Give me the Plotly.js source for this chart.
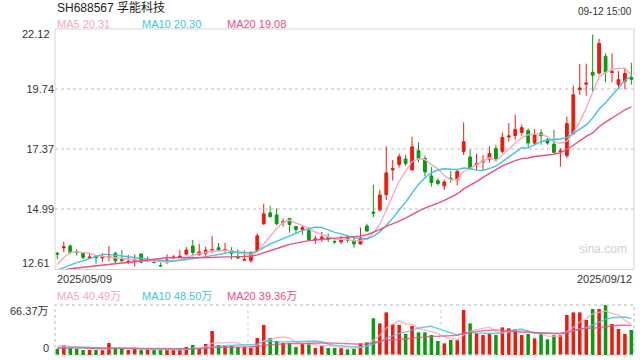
<!DOCTYPE html>
<html><head><meta charset="utf-8">
<script src="https://cdn.plot.ly/plotly-3.0.1.min.js"></script>
<style>html,body{margin:0;padding:0;background:#fff}#chart{width:640px;height:360px}</style>
</head><body><div id="chart"></div><script>
// ---- data ----
const year = '2025';
const daysMay = ['09','12','13','14','15','16','19','20','21','22','23','26','27','28','29','30'];
const daysJun = ['03','04','05','06','09','10','11','12','13','16','17','18','19','20','23','24','25','26','27','30'];
const daysJul = ['01','02','03','04','07','08','09','10','11','14','15','16','17','18','21','22','23','24','25','28','29','30','31'];
const daysAug = ['01','04','05','06','07','08','11','12','13','14','15','18','19','20','21','22','25','26','27','28','29'];
const daysSep = ['01','02','03','04','05','08','09','10','11','12'];

const openP = [13.25,13.47,13.54,13.31,13.26,13.07,13.15,13.07,13.10,13.25,
  13.05,12.91,12.92,13.22,12.95,12.92,12.76,12.96,13.07,13.10,
  13.22,13.54,13.20,13.25,13.37,13.47,13.37,13.36,13.12,12.98,
  12.96,13.36,14.42,14.85,14.77,14.47,14.63,14.31,14.19,14.15,
  13.80,13.82,13.87,13.72,13.70,13.87,13.75,13.62,14.33,14.88,
  14.97,15.57,16.55,16.76,16.98,16.55,17.31,17.00,16.31,16.12,
  15.92,16.22,16.16,17.28,17.06,16.75,16.86,16.98,17.39,17.28,
  17.85,17.91,18.03,18.10,17.61,18.01,17.74,17.57,17.27,17.11,
  17.98,19.72,19.94,20.41,20.38,21.04,20.40,19.92,20.05,20.20];
const highP = [13.31,13.71,13.60,13.41,13.27,13.25,13.17,13.25,13.55,13.31,
  13.38,13.18,13.21,13.25,13.12,13.01,12.88,13.21,13.18,13.38,
  13.50,13.78,13.62,13.51,13.94,13.66,13.66,13.49,13.41,13.36,
  13.34,14.04,15.21,15.13,15.03,14.62,14.63,14.33,14.36,14.28,
  13.94,14.10,14.03,13.77,13.94,13.98,13.91,14.27,14.42,15.96,
  15.76,17.48,16.94,17.19,17.15,17.86,17.63,17.11,16.66,16.22,
  16.16,16.51,16.55,18.43,17.35,17.19,17.14,17.48,17.54,18.03,
  18.40,18.73,18.34,18.18,18.17,18.14,17.81,18.14,17.41,18.66,
  19.88,20.74,20.75,21.90,21.73,21.15,21.15,20.45,20.54,20.78];
const lowP = [13.02,13.29,13.22,13.16,13.02,13.04,12.84,12.92,12.93,12.85,
  12.93,12.82,12.72,12.85,12.90,12.85,12.74,12.82,13.02,13.05,
  13.18,13.12,13.15,13.08,13.25,13.34,13.28,13.01,13.01,12.97,
  12.88,13.32,14.37,14.66,14.36,14.31,14.07,14.03,13.99,13.75,
  13.62,13.70,13.69,13.62,13.62,13.67,13.47,13.59,14.11,14.68,
  14.90,15.36,16.13,16.64,16.71,16.51,16.84,16.29,15.89,15.93,
  15.75,16.04,15.93,17.14,16.55,16.53,16.53,16.84,16.87,17.21,
  17.67,17.74,17.90,17.45,17.57,17.54,17.54,17.21,16.68,17.02,
  17.94,19.52,19.48,19.66,20.32,20.01,20.01,19.75,19.75,19.92];
const closeP = [13.22,13.51,13.28,13.28,13.09,13.10,13.08,13.11,13.13,12.95,
  12.95,12.93,13.01,12.90,12.97,12.90,12.75,12.98,13.10,13.13,
  13.38,13.28,13.30,13.37,13.39,13.38,13.39,13.25,13.07,13.00,
  13.27,13.94,14.81,14.70,14.42,14.50,14.39,14.19,14.27,13.78,
  13.82,13.89,13.81,13.70,13.81,13.77,13.62,13.86,14.13,14.84,
  15.56,16.43,16.60,17.07,16.80,17.46,17.00,16.47,16.05,16.01,
  16.07,16.20,16.49,17.66,16.63,16.80,16.90,17.19,16.99,17.83,
  17.89,18.15,18.22,17.61,17.94,17.90,17.61,17.24,17.30,18.38,
  19.52,19.79,19.98,20.29,21.55,20.41,20.43,20.12,20.36,20.13];
// volume in 万 (10k shares)
const volume = [7.96,13.3,9.7,8.0,6.6,6.6,6.6,6.6,15.9,9.7,
  8.0,6.6,8.0,6.6,8.0,6.6,6.6,6.6,6.6,8.0,
  10.6,13.3,8.0,14.6,31.9,13.3,11.9,11.9,10.6,10.6,
  9.3,22.6,39.8,22.6,18.6,15.9,15.9,10.6,14.6,15.9,
  9.3,11.9,9.3,9.3,9.0,7.5,8.4,15.5,16.8,48.7,
  42.0,56.6,41.1,39.8,27.9,38.5,30.1,30.1,26.5,18.6,
  15.5,19.9,19.9,59.7,42.0,28.8,26.5,27.9,26.5,36.7,
  35.4,34.1,26.5,27.9,22.1,28.8,20.8,26.5,26.5,53.1,
  56.6,56.6,46.5,61.0,61.0,66.4,41.1,34.5,27.9,33.2];
// estimated sessions before the window (needed for the moving averages)
const priorCloses = [12.45,12.52,12.60,12.48,12.40,12.55,12.62,12.50,12.44,12.50,
  12.50,12.28,12.35,12.42,12.30,12.10,12.30,13.10,13.30];
const priorVolumes = [8,7,9,8,7,8,9,7,8,8,7,8,7,8,7,12,14,13,13];

const maPeriods = [5,10,20];
const maColors = ['#f7a6c4','#3fc3dd','#ec4d83'];
const priceMALabels = ['MA5 20.31','MA10 20.30','MA20 19.08'];
const volMALabels = ['MA5 40.49万','MA10 48.50万','MA20 39.36万'];
const priceRange = [12.61, 22.12];
const priceTicks = [14.99, 17.37, 19.74];
const volMax = 66.37;
const volLabels = ['66.37万','0'];
const titleText = 'SH688567 孚能科技';
const timeText = '09-12 15:00';

// ---- derived ----
const dates = [];
[['05',daysMay],['06',daysJun],['07',daysJul],['08',daysAug],['09',daysSep]].forEach(([m,ds])=>ds.forEach(d=>dates.push(year+'/'+m+'/'+d)));

function movingAvg(prior, vals, n){
  const all = prior.concat(vals);
  return vals.map((_,i)=>{const e=prior.length+i;let s=0;for(let k=e-n+1;k<=e;k++)s+=all[k];return s/n;});
}
const RED='#f0190c', GREEN='#0a9b0f';
const barColors = closeP.map((c,i)=> c>=openP[i]?RED:GREEN);

// ---- geometry helpers (pixels -> paper) ----
const W=640,H=360,L=55,R=6,T=29,B=5;
const px=x=>(x-L)/(W-L-R);
const py=y=>(H-B-y)/(H-T-B);

const traces = [];
traces.push({type:'candlestick', x:dates, open:openP, high:highP, low:lowP, close:closeP,
  xaxis:'x', yaxis:'y', whiskerwidth:0,
  increasing:{line:{color:RED,width:1},fillcolor:RED},
  decreasing:{line:{color:GREEN,width:1},fillcolor:GREEN},
  hoverinfo:'skip', showlegend:false});
maPeriods.forEach((n,k)=>{
  traces.push({type:'scatter',mode:'lines',x:dates,y:movingAvg(priorCloses,closeP,n),
    xaxis:'x',yaxis:'y',line:{color:maColors[k],width:1.4},hoverinfo:'skip',showlegend:false});
});
traces.push({type:'bar',x:dates,y:volume,xaxis:'x',yaxis:'y2',marker:{color:barColors,line:{width:0}},
  hoverinfo:'skip',showlegend:false});
maPeriods.forEach((n,k)=>{
  traces.push({type:'scatter',mode:'lines',x:dates,y:movingAvg(priorVolumes,volume,n),
    xaxis:'x',yaxis:'y2',line:{color:maColors[k],width:1.4},opacity:0.8,hoverinfo:'skip',showlegend:false});
});

const FONT = 'Liberation Sans, Arial, Noto Sans CJK SC, sans-serif';
const ann = [];
function txt(t,x,y,xa,ya,size,color){ann.push({text:t,xref:'paper',yref:'paper',x:px(x),y:py(y),xanchor:xa,yanchor:ya,showarrow:false,font:{family:FONT,size:size,color:color}});}
txt(titleText,55,8,'left','middle',12,'#222');
txt(timeText,634,11,'right','middle',10,'#333');
priceMALabels.forEach((t,k)=>txt(t,[55,140,225][k],24.5,'left','middle',11,maColors[k]));
volMALabels.forEach((t,k)=>txt(t,[55,140,225][k],296,'left','middle',11,maColors[k]));
txt(priceRange[1].toFixed(2),52,34,'right','middle',11,'#333');
txt(priceRange[0].toFixed(2),52,263,'right','middle',11,'#333');
txt(volLabels[0],51,311,'right','middle',11,'#333');
txt(volLabels[1],51,348,'right','middle',11,'#333');
txt(dates[0],55,279,'left','middle',11,'#333');
txt(dates[dates.length-1],634,279,'right','middle',11,'#333');
txt('sina.com',603,249,'center','middle',12,'#d0d0d0');

const shapes = [
  {type:'rect',xref:'paper',yref:'paper',x0:0,x1:1,y0:py(269.5),y1:1,line:{color:'#d4d4d4',width:1}},
  {type:'rect',xref:'paper',yref:'paper',x0:0,x1:1,y0:0,y1:py(305),line:{color:'#cfcfcf',width:1.5,dash:'dot'}},
  {type:'line',xref:'paper',yref:'paper',x0:1/3,x1:1/3,y0:0,y1:py(305),line:{color:'#cfcfcf',width:1,dash:'dot'}},
  {type:'line',xref:'paper',yref:'paper',x0:2/3,x1:2/3,y0:0,y1:py(305),line:{color:'#cfcfcf',width:1,dash:'dot'}}
];

const layout = {
  width:W,height:H,margin:{l:L,r:R,t:T,b:B},paper_bgcolor:'#fff',plot_bgcolor:'#fff',
  showlegend:false, bargap:0.45, boxgap:0.38,
  xaxis:{type:'category',range:[-0.36,89.41],showticklabels:false,ticks:'',showgrid:false,zeroline:false,
    showline:false,rangeslider:{visible:false},anchor:'y2',fixedrange:true},
  yaxis:{domain:[py(269.5),1],range:priceRange,tickvals:priceTicks,ticktext:priceTicks.map(v=>v.toFixed(2)),
    showgrid:true,gridcolor:'#dedede',griddash:'dot',gridwidth:2,zeroline:false,showline:false,ticks:'',
    tickfont:{family:FONT,size:11,color:'#333'},fixedrange:true},
  yaxis2:{domain:[0,py(305)],range:[0,volMax],showticklabels:false,showgrid:false,zeroline:false,ticks:'',fixedrange:true},
  annotations:ann, shapes:shapes
};
Plotly.newPlot('chart',traces,layout,{staticPlot:true,displayModeBar:false});
</script></body></html>
